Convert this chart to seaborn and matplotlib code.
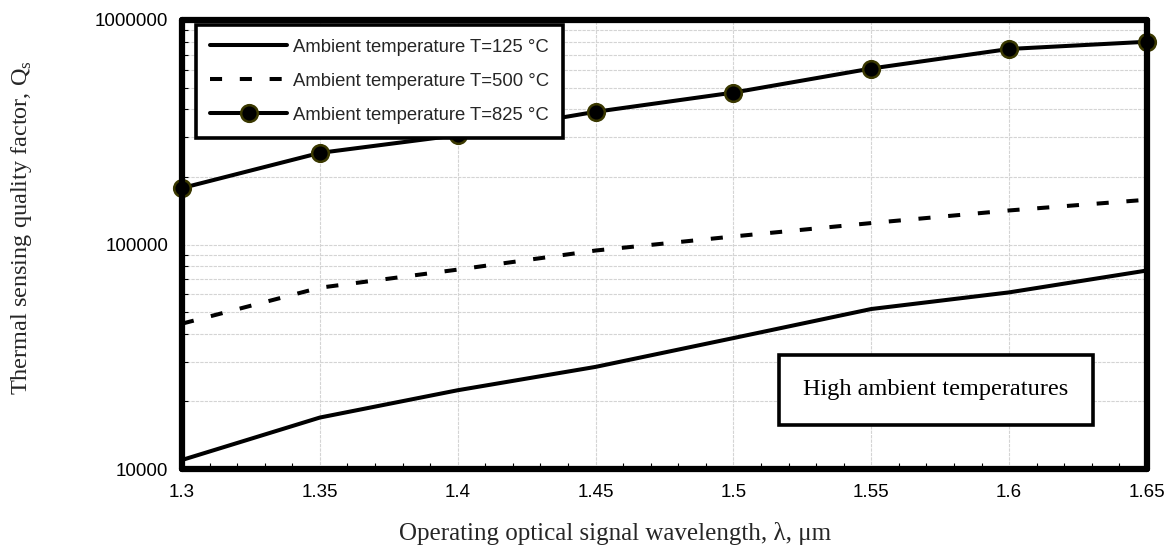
import numpy as np
import pandas as pd
import matplotlib
matplotlib.use("Agg")
import matplotlib.pyplot as plt
import seaborn as sns
from matplotlib.ticker import FixedLocator, MultipleLocator, NullFormatter

wavelength = [1.30, 1.35, 1.40, 1.45, 1.50, 1.55, 1.60, 1.65]
q_125 = [10970, 16950, 22430, 28500, 38300, 51600, 61200, 76600]
q_500 = [44400, 64200, 77300, 94000, 108600, 124600, 141800, 158300]
q_825 = [178400, 255900, 307000, 390000, 475000, 608000, 743000, 800000]
series_labels = ["Ambient temperature T=125 °C",
                 "Ambient temperature T=500 °C",
                 "Ambient temperature T=825 °C"]
x_ticks = [1.3, 1.35, 1.4, 1.45, 1.5, 1.55, 1.6, 1.65]
x_tick_labels = ["1.3", "1.35", "1.4", "1.45", "1.5", "1.55", "1.6", "1.65"]
y_ticks = [10000, 100000, 1000000]
y_tick_labels = ["10000", "100000", "1000000"]
annotation = "High ambient temperatures"

df = pd.DataFrame({
    "wl": wavelength * 3,
    "q": q_125 + q_500 + q_825,
    "series": [series_labels[0]] * 8 + [series_labels[1]] * 8 + [series_labels[2]] * 8,
})

sns.set_theme(style="white")
plt.rcParams["font.family"] = ["Liberation Sans", "DejaVu Sans"]
serif = ["Liberation Serif", "DejaVu Serif"]

fig = plt.figure(figsize=(11.75, 5.55), dpi=100)
ax = fig.add_axes([182 / 1175, 1 - 469 / 555, (1147 - 182) / 1175, (469 - 20) / 555])

lw = 2.9
sub = df[df.series == series_labels[0]]
sns.lineplot(data=sub, x="wl", y="q", ax=ax, color="black", lw=lw,
             label=series_labels[0], zorder=3)
sub = df[df.series == series_labels[1]]
sns.lineplot(data=sub, x="wl", y="q", ax=ax, color="black", lw=lw,
             linestyle=(0, (3, 4.4)), label=series_labels[1], zorder=3)
sub = df[df.series == series_labels[2]]
sns.lineplot(data=sub, x="wl", y="q", ax=ax, color="black", lw=lw,
             marker="o", markersize=12, markerfacecolor="black",
             markeredgecolor="#3a3800", markeredgewidth=1.8,
             label=series_labels[2], zorder=4, clip_on=False)

ax.set_yscale("log")
ax.set_xlim(1.3, 1.65)
ax.set_ylim(10000, 1000000)

ax.xaxis.set_major_locator(FixedLocator(x_ticks))
ax.set_xticklabels(x_tick_labels)
ax.xaxis.set_minor_locator(MultipleLocator(0.01))
ax.yaxis.set_major_locator(FixedLocator(y_ticks))
ax.set_yticklabels(y_tick_labels)
minor_y = [m * 10 ** e for e in (4, 5) for m in range(2, 10)]
ax.yaxis.set_minor_locator(FixedLocator(minor_y))
ax.yaxis.set_minor_formatter(NullFormatter())

ax.tick_params(axis="both", which="both", direction="in", color="black",
               labelsize=13.5, labelcolor="black")
ax.tick_params(axis="y", which="major", length=0, pad=10)
ax.tick_params(axis="x", which="major", length=0, pad=11)
ax.tick_params(axis="both", which="minor", length=4, width=0.8)
ax.tick_params(left=True, bottom=True, which="minor")

gkw = dict(color="#d4d4d4", lw=0.8, ls=(0, (3, 1)))
ax.grid(True, axis="y", which="both", **gkw)
ax.grid(True, axis="x", which="major", **gkw)
ax.set_axisbelow(True)

for s in ax.spines.values():
    s.set_visible(True)
    s.set_linewidth(4.5)
    s.set_color("black")
    s.set_capstyle("round")
    s.set_zorder(5)

ax.set_xlabel("Operating optical signal wavelength, λ, μm", family=serif, fontsize=18)
ax.xaxis.set_label_coords((615 - 182) / 965, 1 - (522 - 20) / 449)
ax.set_ylabel("Thermal sensing quality factor, Q$_\\mathregular{s}$", family=serif, fontsize=17.5)
ax.yaxis.set_label_coords((34 - 182) / 965, 1 - (228 - 20) / 449)

leg = ax.legend(loc="upper left", bbox_to_anchor=(0.0145, 0.989), fontsize=13.3,
                frameon=True, fancybox=False, handlelength=4.2, handletextpad=0.3,
                borderpad=0.75, labelspacing=0.92, borderaxespad=0.0)
leg.get_frame().set_edgecolor("black")
leg.get_frame().set_linewidth(2.6)
leg.get_frame().set_facecolor("white")
leg.get_frame().set_alpha(1)
leg.set_zorder(6)

ax.text((936 - 182) / 965, 1 - (390 - 20) / 449, annotation, transform=ax.transAxes,
        ha="center", va="center", family=serif, fontsize=17.5, color="black", zorder=6,
        bbox=dict(boxstyle="square,pad=1.0", facecolor="white", edgecolor="black", lw=2.6))

fig.savefig("out.png", dpi=100)
